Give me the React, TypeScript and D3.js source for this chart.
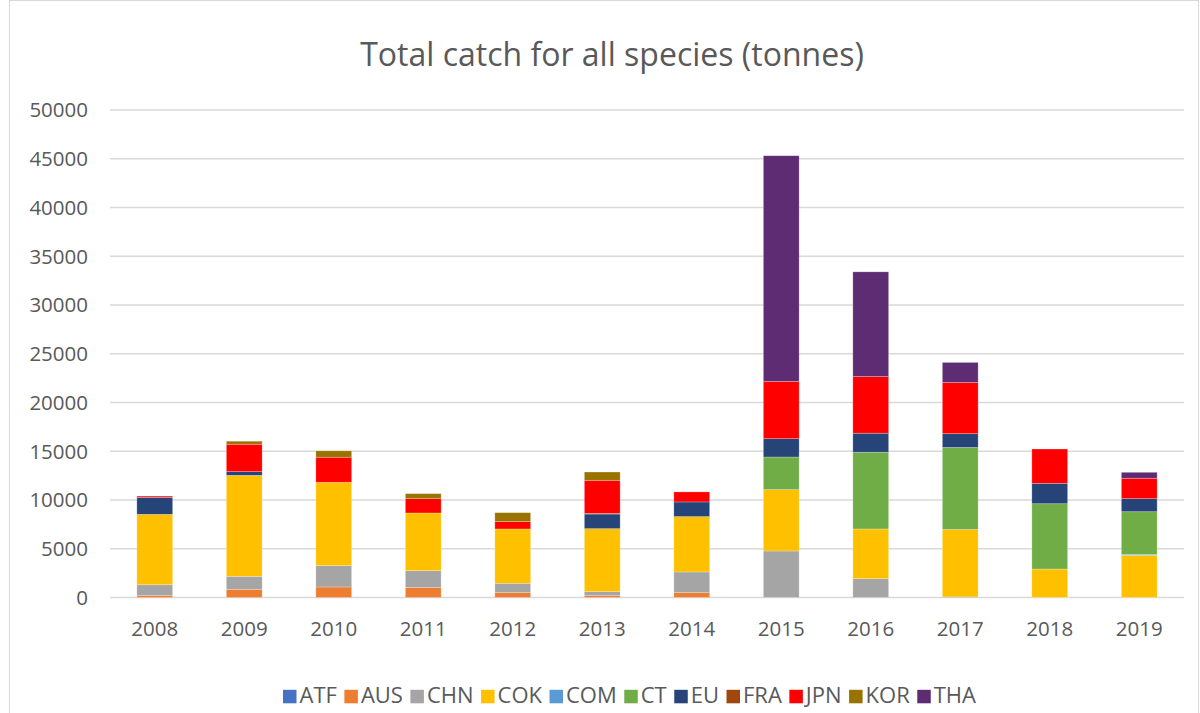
import React, { useEffect, useRef } from "react";
import * as d3 from "d3";

const years = ["2008", "2009", "2010", "2011", "2012", "2013", "2014", "2015", "2016", "2017", "2018", "2019"];
const seriesNames = ["ATF", "AUS", "CHN", "COK", "COM", "CT", "EU", "FRA", "JPN", "KOR", "THA"];
const seriesColors = ["#4472C4", "#ED7D31", "#A5A5A5", "#FFC000", "#5B9BD5", "#70AD47", "#264478", "#9E480E", "#FF0000", "#997300", "#5E2C73"];

const ATF = [0, 0, 0, 0, 0, 0, 0, 0, 0, 0, 0, 0];
const AUS = [200, 840, 1080, 1040, 500, 190, 500, 0, 0, 0, 0, 0];
const CHN = [1110, 1330, 2190, 1710, 960, 410, 2120, 4770, 1930, 60, 0, 0];
const COK = [7220, 10360, 8550, 5920, 5570, 6460, 5680, 6290, 5100, 6920, 2920, 4330];
const COM = [0, 0, 0, 0, 0, 0, 0, 0, 0, 0, 0, 100];
const CT = [0, 0, 0, 0, 0, 0, 0, 3350, 7870, 8410, 6700, 4370];
const EU = [1740, 380, 0, 0, 0, 1500, 1500, 1880, 1950, 1410, 2090, 1340];
const FRA = [0, 0, 0, 0, 0, 60, 0, 0, 0, 0, 0, 0];
const JPN = [130, 2810, 2570, 1470, 750, 3400, 1030, 5880, 5810, 5260, 3520, 2090];
const KOR = [0, 310, 650, 510, 920, 850, 0, 0, 0, 0, 0, 0];
const THA = [0, 0, 0, 0, 0, 0, 0, 23140, 10740, 2050, 0, 610];

const seriesValues = [ATF, AUS, CHN, COK, COM, CT, EU, FRA, JPN, KOR, THA];
const yTicks = [0, 5000, 10000, 15000, 20000, 25000, 30000, 35000, 40000, 45000, 50000];

const W = 1200;
const H = 713;
const margin = { top: 110, right: 16, bottom: 115.5, left: 110 };
const FONT = "'Open Sans', Lato, sans-serif";
const TEXT = "#595959";
const TITLE = "Total catch for all species (tonnes)";

const App: React.FC = () => {
  const svgRef = useRef<SVGSVGElement>(null);

  useEffect(() => {
    const svg = d3.select(svgRef.current);
    svg.selectAll("*").remove();

    const rows = years.map((y, i) => {
      const r: any = { year: y };
      seriesNames.forEach((s, j) => (r[s] = seriesValues[j][i]));
      return r;
    });

    const x = d3
      .scaleBand<string>()
      .domain(years)
      .range([margin.left, W - margin.right])
      .paddingInner(0.6)
      .paddingOuter(0.3);
    const y = d3
      .scaleLinear()
      .domain([0, 50000])
      .range([H - margin.bottom, margin.top]);

    // outer chart border
    svg
      .append("rect")
      .attr("x", 9.5)
      .attr("y", 0.5)
      .attr("width", W - 11)
      .attr("height", H + 10)
      .attr("fill", "white")
      .attr("stroke", "#D9D9D9")
      .attr("stroke-width", 1);

    // title, sized to the reference width
    const title = svg
      .append("text")
      .attr("x", 612)
      .attr("y", 66)
      .attr("text-anchor", "middle")
      .attr("font-family", FONT)
      .attr("font-size", 30)
      .attr("fill", TEXT)
      .text(TITLE);
    const tw = (title.node() as SVGTextElement).getComputedTextLength();
    title.attr("font-size", Math.min(32, (30 * 508) / tw));

    // gridlines
    svg
      .append("g")
      .selectAll("line")
      .data(yTicks)
      .join("line")
      .attr("x1", margin.left)
      .attr("x2", W - margin.right)
      .attr("y1", d => y(d))
      .attr("y2", d => y(d))
      .attr("stroke", "#D9D9D9")
      .attr("stroke-width", 1.5);

    // y labels
    svg
      .append("g")
      .selectAll("text")
      .data(yTicks)
      .join("text")
      .attr("x", 88)
      .attr("y", d => y(d))
      .attr("dy", "0.36em")
      .attr("text-anchor", "end")
      .attr("font-family", FONT)
      .attr("font-size", 20.5)
      .attr("fill", TEXT)
      .text(d => String(d));

    // bars
    const stack = d3.stack<any>().keys(seriesNames);
    const layers = stack(rows);
    svg
      .append("g")
      .selectAll("g")
      .data(layers)
      .join("g")
      .attr("fill", (_, i) => seriesColors[i])
      .selectAll("rect")
      .data(d => d.filter(p => p[1] - p[0] > 0))
      .join("rect")
      .attr("x", d => x(d.data.year)!)
      .attr("width", x.bandwidth())
      .attr("y", d => y(d[1]))
      .attr("height", d => y(d[0]) - y(d[1]))
      .attr("stroke", "rgba(255,255,255,0.35)")
      .attr("stroke-width", 0.7);

    // x labels
    svg
      .append("g")
      .selectAll("text")
      .data(years)
      .join("text")
      .attr("x", d => x(d)! + x.bandwidth() / 2)
      .attr("y", 636)
      .attr("text-anchor", "middle")
      .attr("font-family", FONT)
      .attr("font-size", 20.5)
      .attr("fill", TEXT)
      .text(d => d);

    // legend: text size fitted so the row spans the reference width
    const sq = 13.5;
    const gapText = 3;
    const gapItem = 7.5;
    const span = 707;
    const leg = svg.append("g");
    const labels = leg
      .selectAll("text")
      .data(seriesNames)
      .join("text")
      .attr("y", 703.3)
      .attr("font-family", FONT)
      .attr("font-size", 20)
      .attr("fill", TEXT)
      .text(d => d);
    const raw = d3.sum(labels.nodes(), n => (n as SVGTextElement).getComputedTextLength());
    const fixed = seriesNames.length * (sq + gapText) + gapItem * (seriesNames.length - 1);
    const legSize = Math.min(22, (20 * (span - fixed)) / raw);
    labels.attr("font-size", legSize);
    const widths = labels.nodes().map(n => sq + gapText + (n as SVGTextElement).getComputedTextLength());
    const total = d3.sum(widths) + gapItem * (seriesNames.length - 1);
    let cx = 629.5 - total / 2;
    labels.each(function (_, i) {
      d3.select(this).attr("x", cx + sq + gapText);
      leg
        .append("rect")
        .attr("x", cx)
        .attr("y", 689.8)
        .attr("width", sq)
        .attr("height", sq)
        .attr("fill", seriesColors[i]);
      cx += widths[i] + gapItem;
    });
  }, []);

  return (
    <div style={{ position: "absolute", left: 0, top: 0 }}>
      <svg ref={svgRef} width={W} height={H} style={{ display: "block" }} />
    </div>
  );
};

export default App;
